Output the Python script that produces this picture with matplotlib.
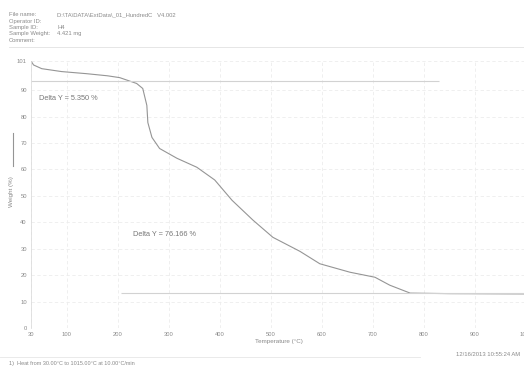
import matplotlib
matplotlib.use('Agg')
import matplotlib.pyplot as plt
from matplotlib.lines import Line2D

plt.rcParams['font.family'] = ['Liberation Sans', 'DejaVu Sans']

# TGA trace read from the run
temperature = [30, 35, 51, 90, 139, 180, 204, 237, 249, 257, 259, 267, 282,
               316, 355, 390, 424, 465, 504, 557, 596, 655, 704, 733, 773,
               850, 1000]
weight = [101.0, 99.5, 98.1, 97.0, 96.2, 95.4, 94.7, 92.5, 90.6, 84.2, 77.7,
          72.1, 67.9, 64.2, 60.8, 56.0, 48.3, 40.8, 34.3, 29.0, 24.3, 21.1,
          19.2, 16.2, 13.2, 13.0, 12.9]

# step analysis levels
step_upper = 93.6
step_lower = 13.2
step_upper_span = [30, 830]
step_lower_span = [207, 1000]
delta_labels = ['Delta Y = 5.350 %', 'Delta Y = 76.166 %']
delta_pos = [(45, 87.0), (230, 35.5)]

x_ticks = [30, 100, 200, 300, 400, 500, 600, 700, 800, 900, 1000]
y_ticks = [0, 10, 20, 30, 40, 50, 60, 70, 80, 90, 101]

header_keys = ['File name:', 'Operator ID:', 'Sample ID:', 'Sample Weight:', 'Comment:']
header_vals = [r'D:\TA\DATA\ExtData\_01_HundredC   V4.002', '', 'H4', '4.421 mg', '']
footnote = '1)  Heat from 30.00\u00b0C to 1015.00\u00b0C at 10.00\u00b0C/min'
timestamp = '12/16/2013 10:55:24 AM'

W, H = 524, 369
txt = '#8a8a8a'
line_c = '#959595'

fig = plt.figure(figsize=(W / 100, H / 100), dpi=100)
ax = fig.add_axes([31 / W, 1 - 328 / H, 495 / W, 267 / H])

ax.plot(temperature, weight, color=line_c, lw=0.8)
ax.hlines(step_upper, *step_upper_span, color='#d2d2d2', lw=0.8)
ax.hlines(step_lower, *step_lower_span, color='#d2d2d2', lw=0.8)
for label, (tx, ty) in zip(delta_labels, delta_pos):
    ax.text(tx, ty, label, fontsize=5.3, color='#777777', va='center')

ax.set_xlim(30, 1000)
ax.set_ylim(0, 101)
ax.set_xticks(x_ticks)
ax.set_yticks(y_ticks)
ax.tick_params(labelsize=4.2, colors=txt, length=0, pad=3)
ax.grid(True, color='#ededed', lw=0.6, ls=(0, (4, 3)))
for side in ['top', 'right', 'bottom']:
    ax.spines[side].set_visible(False)
ax.spines['left'].set_color('#dddddd')
ax.spines['left'].set_linewidth(0.6)
ax.set_xlabel('Temperature (\u00b0C)', fontsize=4.5, color=txt, labelpad=1)

# y label with its trace sample
fig.text(11 / W, 1 - 192 / H, 'Weight (%)', rotation=90, fontsize=4.5,
         color=txt, ha='center', va='center')
fig.add_artist(Line2D([13 / W, 13 / W], [1 - 133 / H, 1 - 166 / H],
                      color=line_c, lw=0.8))

# header block
for i, (k, v) in enumerate(zip(header_keys, header_vals)):
    y = 1 - (15 + i * 6.3) / H
    fig.text(9 / W, y, k, fontsize=4.2, color=txt, va='center')
    fig.text(57 / W, y, v, fontsize=4.2, color=txt, va='center')
fig.add_artist(Line2D([9 / W, 1.0], [1 - 47 / H, 1 - 47 / H],
                      color='#e2e2e2', lw=0.6))

# footer
fig.add_artist(Line2D([0, 420 / W], [1 - 357 / H, 1 - 357 / H],
                      color='#e6e6e6', lw=0.6))
fig.text(9 / W, 1 - 363 / H, footnote, fontsize=4.0, color=txt, va='center')
fig.text(520 / W, 1 - 355 / H, timestamp, fontsize=4.2, color=txt,
         ha='right', va='center')

fig.savefig('out.png', dpi=100, facecolor='white')
